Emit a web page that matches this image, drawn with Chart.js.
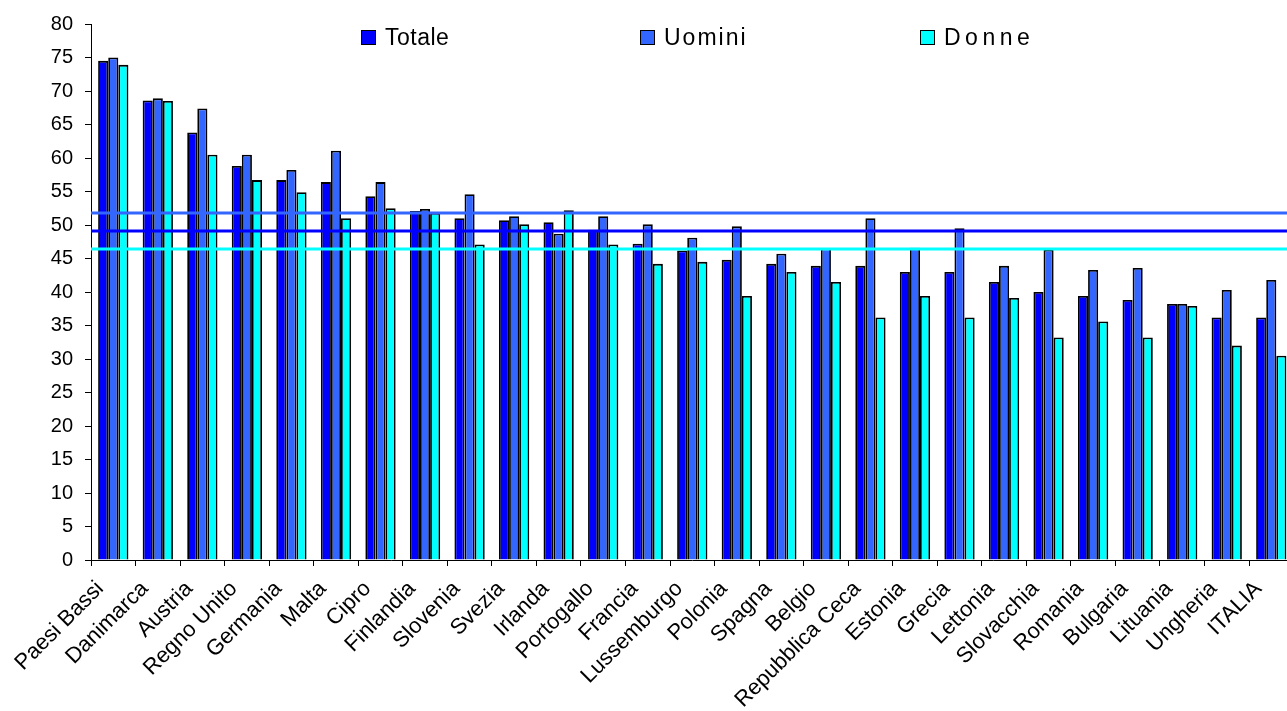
<!DOCTYPE html>
<html>
<head>
<meta charset="utf-8">
<script src="https://cdn.jsdelivr.net/npm/chart.js@4"></script>
<style>
  html, body { margin: 0; padding: 0; background: #fff; overflow: hidden; }
  #wrap { position: relative; width: 1300px; height: 711px; }
  .legend { position: absolute; top: 24px; font-family: "Liberation Sans", Arial, sans-serif; font-size: 23px; color: #000; display: flex; align-items: center; white-space: nowrap; }
  .legend i { display: inline-block; width: 13px; height: 13px; border: 1.5px solid #000; margin-right: 9px; }
</style>
</head>
<body>
<div id="wrap">
  <canvas id="c" width="1300" height="711"></canvas>
  <div class="legend" style="left:361px"><i style="background:#0000FF"></i><span style="letter-spacing:0.5px">Totale</span></div>
  <div class="legend" style="left:640px"><i style="background:#3366FF"></i><span style="letter-spacing:2px">Uomini</span></div>
  <div class="legend" style="left:920px"><i style="background:#00FFFF"></i><span style="letter-spacing:4.5px">Donne</span></div>
</div>
<script>
const categories = ['Paesi Bassi','Danimarca','Austria','Regno Unito','Germania','Malta','Cipro','Finlandia','Slovenia','Svezia','Irlanda','Portogallo','Francia','Lussemburgo','Polonia','Spagna','Belgio','Repubblica Ceca','Estonia','Grecia','Lettonia','Slovacchia','Romania','Bulgaria','Lituania','Ungheria','ITALIA'];
const totale = [74.5, 68.6, 63.8, 58.8, 56.7, 56.4, 54.3, 52.1, 51.0, 50.7, 50.4, 49.3, 47.2, 46.2, 44.8, 44.2, 43.9, 43.9, 43.0, 43.0, 41.5, 40.0, 39.4, 38.8, 38.2, 36.2, 36.2];
const uomini = [75.0, 68.9, 67.4, 60.5, 58.2, 61.1, 56.4, 52.4, 54.6, 51.3, 48.7, 51.3, 50.1, 48.1, 49.8, 45.7, 46.5, 51.0, 46.6, 49.5, 43.9, 46.3, 43.3, 43.6, 38.2, 40.3, 41.8];
const donne  = [73.9, 68.5, 60.5, 56.7, 54.9, 51.0, 52.5, 51.8, 47.1, 50.1, 52.2, 47.1, 44.2, 44.5, 39.4, 43.0, 41.5, 36.2, 39.4, 36.2, 39.1, 33.2, 35.6, 33.2, 37.9, 32.0, 30.5];

// EU averages drawn as horizontal reference lines
const mediaTotale = 49.1;
const mediaUomini = 51.8;
const mediaDonne = 46.4;

const refLines = [
  { value: mediaUomini, color: '#3366FF' },
  { value: mediaTotale, color: '#0000FF' },
  { value: mediaDonne,  color: '#00FFFF' }
];

const refLinePlugin = {
  id: 'refLines',
  afterDatasetsDraw(chart) {
    const { ctx, chartArea, scales } = chart;
    ctx.save();
    ctx.lineWidth = 3;
    refLines.forEach(l => {
      const y = scales.y.getPixelForValue(l.value);
      ctx.strokeStyle = l.color;
      ctx.beginPath();
      ctx.moveTo(chartArea.left, y);
      ctx.lineTo(chartArea.right + 20, y);
      ctx.stroke();
    });
    ctx.restore();
  }
};

const yFont = { family: '"Liberation Sans", Arial, sans-serif', size: 20 };
const xFont = { family: '"Liberation Sans", Arial, sans-serif', size: 22 };

new Chart(document.getElementById('c'), {
  type: 'bar',
  data: {
    labels: categories,
    datasets: [
      { label: 'Totale', data: totale, backgroundColor: '#0000FF', borderColor: '#000', borderWidth: 1.8 },
      { label: 'Uomini', data: uomini, backgroundColor: '#3366FF', borderColor: '#000', borderWidth: 1.8 },
      { label: 'Donne',  data: donne,  backgroundColor: '#00FFFF', borderColor: '#000', borderWidth: 1.8 }
    ]
  },
  options: {
    responsive: false,
    animation: false,
    events: [],
    layout: { padding: { top: 24, right: 3, left: 0, bottom: 0 } },
    datasets: { bar: { categoryPercentage: 0.68, barPercentage: 1.0 } },
    plugins: { legend: { display: false }, tooltip: { enabled: false } },
    scales: {
      x: {
        offset: true,
        grid: { display: true, drawOnChartArea: false, drawTicks: true, tickLength: 6, color: '#000', offset: true },
        border: { display: true, color: '#000', width: 1 },
        ticks: { color: '#000', font: xFont, minRotation: 45, maxRotation: 45, autoSkip: false, padding: 10, labelOffset: -13 },
        afterFit(scale) { scale.height = 151; }
      },
      y: {
        min: 0, max: 80,
        grid: { display: true, drawOnChartArea: false, drawTicks: true, tickLength: 6, color: '#000' },
        border: { display: true, color: '#000', width: 1 },
        ticks: { stepSize: 5, color: '#000', font: yFont, padding: 12 },
        afterFit(scale) { scale.width = 91; }
      }
    }
  },
  plugins: [refLinePlugin]
});
</script>
</body>
</html>
